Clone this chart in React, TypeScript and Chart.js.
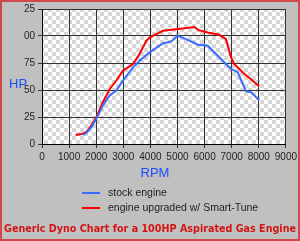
import React, { useEffect, useRef } from "react";
import { Chart, registerables } from "chart.js";

Chart.register(...registerables);

const stockRpm = [1500, 1640, 1830, 2010, 2250, 2500, 2745, 2990, 3360, 3600, 3970, 4460, 4770, 5010, 5320, 5750, 6115, 6420, 6790, 6975, 7220, 7525, 7710, 8015];
const stockHp = [8.5, 10.4, 15.9, 23.6, 35.8, 45, 49.6, 58.8, 71, 77.2, 84.8, 93.1, 95, 100.2, 97.1, 91.9, 91, 83.4, 74.1, 69.6, 66.5, 49, 48, 40.4];

const tunedRpm = [1240, 1460, 1640, 1830, 2010, 2250, 2500, 2745, 2990, 3170, 3360, 3600, 3850, 3970, 4460, 4950, 5260, 5625, 5780, 6115, 6545, 6790, 6975, 7095, 7460, 7770, 8015];
const tunedHp = [8.3, 9.2, 11.3, 17.5, 25, 38.9, 51, 58.8, 68, 71, 74, 83.4, 95.6, 98.6, 104.8, 106.3, 107.2, 108.4, 105.4, 103.2, 101.1, 97.1, 80.2, 74.1, 65, 58.8, 53.3];

const xTickLabels = ["0", "1000", "2000", "3000", "4000", "5000", "6000", "7000", "8000", "9000"];
const yTickLabels = ["0", "25", "50", "75", "00", "25"];
const seriesNames = ["stock engine", "engine upgraded w/ Smart-Tune"];
const seriesColors = ["#3a6cff", "#ff0000"];
const xTitle = "RPM";
const yTitle = "HP";
const chartTitle = "Generic Dyno Chart for a 100HP Aspirated Gas Engine";

export default function App() {
  const ref = useRef<HTMLCanvasElement | null>(null);
  useEffect(() => {
    const canvas = ref.current!;
    const bgPlugin = {
      id: "bg",
      beforeDraw(chart: any) {
        const { ctx, chartArea } = chart;
        ctx.save();
        ctx.fillStyle = "#c0c0c0";
        ctx.fillRect(0, 0, chart.width, chart.height);
        const pc = document.createElement("canvas");
        pc.width = 8;
        pc.height = 8;
        const p = pc.getContext("2d")!;
        p.fillStyle = "#ffffff";
        p.fillRect(0, 0, 8, 8);
        p.fillStyle = "#d6d6d6";
        p.fillRect(0, 0, 4, 4);
        p.fillRect(4, 4, 4, 4);
        ctx.fillStyle = ctx.createPattern(pc, "repeat");
        ctx.fillRect(chartArea.left, chartArea.top, chartArea.right - chartArea.left, chartArea.bottom - chartArea.top);
        ctx.restore();
      },
      afterDraw(chart: any) {
        const { ctx } = chart;
        ctx.save();
        ctx.fillStyle = "#1a4cff";
        ctx.font = "13px 'Liberation Sans', Arial, sans-serif";
        ctx.textBaseline = "middle";
        ctx.textAlign = "left";
        ctx.fillText(yTitle, 9, 84);
        ctx.textAlign = "center";
        ctx.fillText(xTitle, 155, 173);
        // legend
        ctx.font = "10.5px 'Liberation Sans', Arial, sans-serif";
        ctx.textAlign = "left";
        for (let i = 0; i < seriesNames.length; i++) {
          const y = 193 + i * 15;
          ctx.strokeStyle = seriesColors[i];
          ctx.lineWidth = 2;
          ctx.beginPath();
          ctx.moveTo(82, y);
          ctx.lineTo(100, y);
          ctx.stroke();
          ctx.fillStyle = "#222";
          ctx.fillText(seriesNames[i], 108, y);
        }
        // title
        ctx.fillStyle = "#d41414";
        ctx.font = "600 11px 'DejaVu Sans', sans-serif";
        const w = ctx.measureText(chartTitle).width;
        const target = 292;
        ctx.save();
        ctx.translate(4, 229);
        ctx.scale(target / w, 1);
        ctx.fillText(chartTitle, 0, 0);
        ctx.restore();
        // border
        ctx.strokeStyle = "#d24848";
        ctx.lineWidth = 2;
        ctx.strokeRect(1, 1, chart.width - 2, chart.height - 2);
        ctx.restore();
      },
    };
    const chart = new Chart(canvas, {
      type: "scatter",
      data: {
        datasets: [
          {
            label: seriesNames[0],
            data: stockRpm.map((x, i) => ({ x, y: stockHp[i] })),
            showLine: true,
            borderColor: seriesColors[0],
            backgroundColor: seriesColors[0],
            borderWidth: 2,
            pointRadius: 0,
          },
          {
            label: seriesNames[1],
            data: tunedRpm.map((x, i) => ({ x, y: tunedHp[i] })),
            showLine: true,
            borderColor: seriesColors[1],
            backgroundColor: seriesColors[1],
            borderWidth: 2,
            pointRadius: 0,
          },
        ],
      },
      options: {
        animation: false,
        responsive: false,
        devicePixelRatio: 1,
        layout: { padding: { left: 0, top: 8, right: 13, bottom: 0 } },
        plugins: { legend: { display: false }, tooltip: { enabled: false } },
        scales: {
          x: {
            type: "linear",
            min: 0,
            max: 9000,
            afterFit: (s: any) => { s.height = 97; },
            ticks: {
              stepSize: 1000,
              color: "#222",
              font: { size: 10, family: "'Liberation Sans', Arial, sans-serif" },
              padding: 3,
              maxRotation: 0,
              autoSkip: false,
              callback: (v: any) => xTickLabels[Math.round(Number(v) / 1000)],
            },
            grid: { color: "#333", lineWidth: 1, tickLength: 4 },
            border: { color: "#000", width: 1 },
          },
          y: {
            type: "linear",
            min: 0,
            max: 125,
            afterFit: (s: any) => { s.width = 42; },
            ticks: {
              stepSize: 25,
              color: "#222",
              font: { size: 10, family: "'Liberation Sans', Arial, sans-serif" },
              padding: 3,
              callback: (v: any) => yTickLabels[Math.round(Number(v) / 25)],
            },
            grid: { color: "#333", lineWidth: 1, tickLength: 4 },
            border: { color: "#000", width: 1 },
          },
        },
      },
      plugins: [bgPlugin],
    });
    return () => chart.destroy();
  }, []);
  return (
    <div style={{ position: "fixed", left: 0, top: 0, width: 300, height: 241 }}>
      <canvas ref={ref} width={300} height={241} style={{ width: 300, height: 241, display: "block" }} />
    </div>
  );
}
